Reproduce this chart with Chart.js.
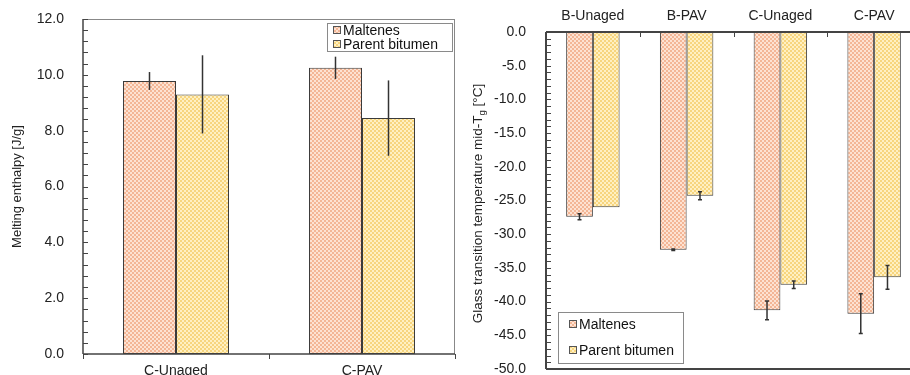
<!DOCTYPE html>
<html>
<head>
<meta charset="utf-8">
<script src="https://cdn.jsdelivr.net/npm/chart.js@4.4.1/dist/chart.umd.min.js"></script>
<style>
  body { margin: 0; background: #fff; }
  #leftBox { position: absolute; left: 0; top: 0; width: 460px; height: 375px; }
  #rightBox { position: absolute; left: 460px; top: 0; width: 450px; height: 375px; overflow: hidden; }
</style>
</head>
<body>
<div id="leftBox"><canvas id="enthalpyChart" width="460" height="375"></canvas></div>
<div id="rightBox"><canvas id="tgChart" width="470" height="375"></canvas></div>
<script>
// Melting enthalpy (J/g)
const enthalpyLabels = ['C-Unaged', 'C-PAV'];
const enthalpyMaltenes = [9.78, 10.25];
const enthalpyMaltenesErr = [0.32, 0.4];
const enthalpyParent = [9.3, 8.45];
const enthalpyParentErr = [1.4, 1.35];

// Glass transition temperature mid-Tg (°C)
const tgLabels = ['B-Unaged', 'B-PAV', 'C-Unaged', 'C-PAV'];
const tgMaltenes = [-27.4, -32.3, -41.3, -41.8];
const tgMaltenesErr = [0.45, 0.12, 1.4, 2.95];
const tgParent = [-26.0, -24.3, -37.5, -36.4];
const tgParentErr = [0, 0.6, 0.55, 1.75];

const seriesNames = ['Maltenes', 'Parent bitumen'];

Chart.defaults.font.family = "'Liberation Sans', Arial, sans-serif";
Chart.defaults.color = '#222';

// small checkerboard fill like the spreadsheet pattern
function checker(dark, light) {
  const c = document.createElement('canvas');
  c.width = c.height = 4;
  const g = c.getContext('2d');
  g.fillStyle = light; g.fillRect(0, 0, 4, 4);
  g.fillStyle = dark; g.fillRect(0, 0, 2, 2); g.fillRect(2, 2, 2, 2);
  return g.createPattern(c, 'repeat');
}
const maltenesFill = checker('#f3b696', '#fde2d2');
const parentFill = checker('#f7d57e', '#fff0c2');

const errorBars = {
  id: 'errorBars',
  afterDatasetsDraw(chart, args, opts) {
    const { ctx } = chart;
    const y = chart.scales.y;
    chart.data.datasets.forEach((ds, i) => {
      const errs = opts.errors[i];
      chart.getDatasetMeta(i).data.forEach((bar, j) => {
        const e = errs[j];
        if (!e) return;
        const v = ds.data[j];
        const p1 = y.getPixelForValue(v + e), p2 = y.getPixelForValue(v - e);
        ctx.save();
        ctx.strokeStyle = '#333';
        ctx.lineWidth = 1.5;
        ctx.beginPath();
        ctx.moveTo(bar.x, p1); ctx.lineTo(bar.x, p2);
        if (opts.cap) {
          ctx.moveTo(bar.x - opts.cap, p1); ctx.lineTo(bar.x + opts.cap, p1);
          ctx.moveTo(bar.x - opts.cap, p2); ctx.lineTo(bar.x + opts.cap, p2);
        }
        ctx.stroke();
        ctx.restore();
      });
    });
  }
};

// plot frame, inward ticks and the boxed legend
const frame = {
  id: 'frame',
  afterDraw(chart, args, opts) {
    const { ctx, chartArea: a } = chart;
    const y = chart.scales.y, x = chart.scales.x;
    ctx.save();
    // outer box
    ctx.strokeStyle = opts.lightEdge;
    ctx.lineWidth = 1;
    ctx.beginPath();
    ctx.moveTo(a.left, a.top + 0.5); ctx.lineTo(a.right, a.top + 0.5);
    ctx.moveTo(a.right - 0.5, a.top); ctx.lineTo(a.right - 0.5, a.bottom);
    ctx.stroke();
    ctx.strokeStyle = '#444';
    ctx.lineWidth = opts.axisWidth;
    ctx.beginPath();
    ctx.moveTo(a.left, a.top); ctx.lineTo(a.left, a.bottom);
    ctx.moveTo(a.left, a.bottom); ctx.lineTo(a.right, a.bottom);
    if (opts.zeroLine) { ctx.moveTo(a.left, a.top); ctx.lineTo(a.right, a.top); }
    ctx.stroke();
    // minor + major ticks pointing into the plot
    ctx.lineWidth = 1;
    ctx.beginPath();
    const n = Math.round((y.max - y.min) / opts.minorStep);
    for (let k = 0; k <= n; k++) {
      const py = Math.round(y.getPixelForValue(y.min + k * opts.minorStep)) + 0.5;
      ctx.moveTo(a.left, py); ctx.lineTo(a.left + 5, py);
    }
    if (opts.topTicks) {
      for (let i = 0; i < chart.data.labels.length - 1; i++) {
        const px = Math.round((x.getPixelForValue(i) + x.getPixelForValue(i + 1)) / 2) + 0.5;
        ctx.moveTo(px, a.top); ctx.lineTo(px, a.top + 5);
      }
    }
    ctx.stroke();

    // legend
    const L = opts.legend;
    ctx.fillStyle = '#fff';
    ctx.fillRect(L.x, L.y, L.w, L.h);
    ctx.strokeStyle = '#8a8a8a';
    ctx.strokeRect(L.x + 0.5, L.y + 0.5, L.w, L.h);
    ctx.font = '14px ' + Chart.defaults.font.family;
    ctx.textBaseline = 'middle';
    chart.data.datasets.forEach((ds, i) => {
      const ry = L.y + L.rows[i];
      ctx.fillStyle = ds.backgroundColor;
      ctx.fillRect(L.x + L.mark, ry - 4, 8, 8);
      ctx.strokeStyle = '#555';
      ctx.strokeRect(L.x + L.mark + 0.5, ry - 3.5, 7, 7);
      ctx.fillStyle = '#111';
      ctx.fillText(ds.label, L.x + L.mark + 10, ry + 1);
    });

    // rotated axis title with subscript
    if (opts.tgTitle) {
      const fam = Chart.defaults.font.family;
      const parts = [['Glass transition temperature mid-T', 13.5, 0], ['g', 9.5, 4], [' [°C]', 13.5, 0]];
      let total = 0;
      parts.forEach(p => { ctx.font = p[1] + 'px ' + fam; p.push(ctx.measureText(p[0]).width); total += p[3]; });
      ctx.translate(18, (a.top + a.bottom) / 2 + 3);
      ctx.rotate(-Math.PI / 2);
      ctx.fillStyle = '#222';
      let tx = -total / 2;
      parts.forEach(p => {
        ctx.font = p[1] + 'px ' + fam;
        ctx.fillText(p[0], tx, p[2]);
        tx += p[3];
      });
    }
    ctx.restore();
  }
};

function barSet(label, data, fill) {
  return {
    label: label,
    data: data,
    backgroundColor: fill,
    borderColor: '#3a3a3a',
    borderWidth: 1,
    borderSkipped: false,
    categoryPercentage: 0.57,
    barPercentage: 1.0
  };
}

// keep the value axis from reserving extra room for its end labels
function fixWidth(w) {
  return s => { s.width = w; s.paddingTop = 0; s.paddingBottom = 0; };
}

new Chart(document.getElementById('enthalpyChart'), {
  type: 'bar',
  data: {
    labels: enthalpyLabels,
    datasets: [
      barSet(seriesNames[0], enthalpyMaltenes, maltenesFill),
      barSet(seriesNames[1], enthalpyParent, parentFill)
    ]
  },
  options: {
    responsive: false,
    animation: false,
    layout: { padding: { top: 19, right: 5 } },
    plugins: {
      legend: { display: false },
      tooltip: { enabled: false },
      errorBars: { errors: [enthalpyMaltenesErr, enthalpyParentErr], cap: 0 },
      frame: {
        minorStep: 0.4, axisWidth: 1.5, lightEdge: '#888',
        legend: { x: 327, y: 23, w: 125, h: 28, mark: 6, rows: [7, 21] }
      }
    },
    scales: {
      x: {
        grid: { drawOnChartArea: false, drawTicks: true, tickLength: 5, color: '#444' },
        border: { display: false },
        ticks: { font: { size: 14 }, padding: 4, color: '#222' },
        afterFit(s) { s.height = 21; }
      },
      y: {
        min: 0, max: 12,
        grid: { display: false },
        border: { display: false },
        ticks: { stepSize: 2, padding: 11, font: { size: 14 }, color: '#222',
                 callback: v => v.toFixed(1) },
        title: { display: true, text: 'Melting enthalpy [J/g]', font: { size: 13 },
                 color: '#222', padding: { top: 10, bottom: 0 } },
        afterFit: fixWidth(83)
      }
    }
  },
  plugins: [errorBars, frame]
});

new Chart(document.getElementById('tgChart'), {
  type: 'bar',
  data: {
    labels: tgLabels,
    datasets: [
      barSet(seriesNames[0], tgMaltenes, maltenesFill),
      barSet(seriesNames[1], tgParent, parentFill)
    ]
  },
  options: {
    responsive: false,
    animation: false,
    layout: { padding: { bottom: 6, right: 9 } },
    plugins: {
      legend: { display: false },
      tooltip: { enabled: false },
      errorBars: { errors: [tgMaltenesErr, tgParentErr], cap: 2 },
      frame: {
        minorStep: 1, axisWidth: 2, lightEdge: '#444', zeroLine: true, topTicks: true, tgTitle: true,
        legend: { x: 98, y: 312, w: 125, h: 51, mark: 11, rows: [12, 38] }
      }
    },
    scales: {
      x: {
        position: 'top',
        grid: { display: false },
        border: { display: false },
        ticks: { font: { size: 14 }, padding: -1, color: '#222' },
        afterFit(s) { s.height = 32; }
      },
      y: {
        min: -50, max: 0,
        grid: { display: false },
        border: { display: false },
        ticks: { stepSize: 5, padding: 12, font: { size: 14 }, color: '#222',
                 callback: v => v.toFixed(1) },
        afterFit: fixWidth(86)
      }
    }
  },
  plugins: [errorBars, frame]
});
</script>
</body>
</html>
